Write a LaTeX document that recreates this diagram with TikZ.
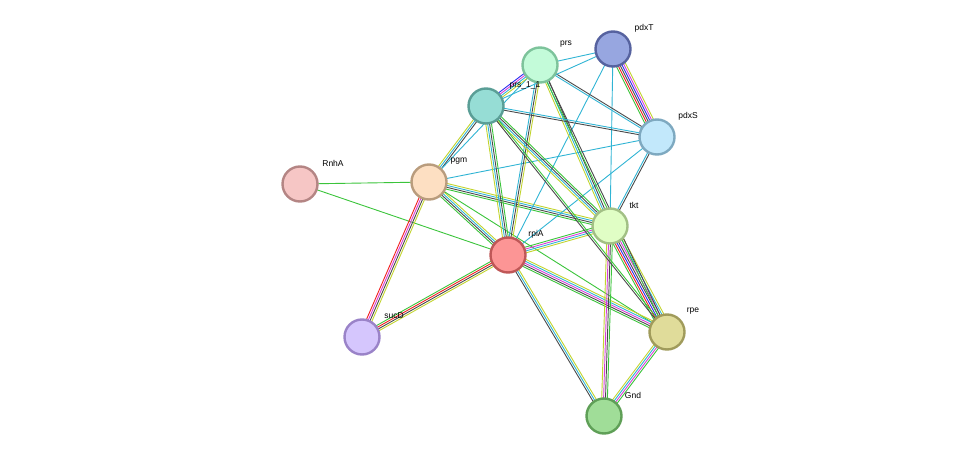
\documentclass[tikz,border=0pt]{standalone}
\usepackage{fontspec}
\setsansfont{Liberation Sans}
\usetikzlibrary{calc,backgrounds}
\definecolor{eG}{HTML}{3BC43B}
\definecolor{eR}{HTML}{F01E1E}
\definecolor{eB}{HTML}{2A2AF0}
\definecolor{eK}{HTML}{4A4A4A}
\definecolor{eM}{HTML}{D83ED8}
\definecolor{eC}{HTML}{30B4D4}
\definecolor{eY}{HTML}{C2D42E}
\definecolor{prsF}{HTML}{C3FBD9}\definecolor{prsD}{HTML}{7DC39B}
\definecolor{pdxTF}{HTML}{97A6E0}\definecolor{pdxTD}{HTML}{56629F}
\definecolor{prs11F}{HTML}{96DDD5}\definecolor{prs11D}{HTML}{5A9E96}
\definecolor{pdxSF}{HTML}{C2E8FB}\definecolor{pdxSD}{HTML}{7EA9C0}
\definecolor{RnhAF}{HTML}{F6C6C5}\definecolor{RnhAD}{HTML}{B48584}
\definecolor{pgmF}{HTML}{FDDFC2}\definecolor{pgmD}{HTML}{B99C7D}
\definecolor{tktF}{HTML}{E0FEC5}\definecolor{tktD}{HTML}{A2C085}
\definecolor{rpiAF}{HTML}{FC9595}\definecolor{rpiAD}{HTML}{BF5757}
\definecolor{sucDF}{HTML}{D5C6FD}\definecolor{sucDD}{HTML}{9A83C8}
\definecolor{rpeF}{HTML}{E0DC9A}\definecolor{rpeD}{HTML}{A09B5B}
\definecolor{GndF}{HTML}{A0DD98}\definecolor{GndD}{HTML}{5F9F57}
\tikzset{
  prot/.style={circle,draw=#1D,fill=#1F,line width=2.4pt,minimum size=35pt,inner sep=0pt},
  lbl/.style={font=\sffamily\fontsize{8.5}{10}\selectfont,inner sep=1pt}
}
\newcommand{\lnk}[3]{%
  \foreach \c [count=\i] in {#3} {\xdef\nlnk{\i}}
  \foreach \c [count=\i] in {#3} {
    \pgfmathsetmacro{\off}{(\i-(\nlnk+1)/2)*1.9}
    \draw[\c,line width=0.9pt] ($(#1)!\off pt!90:(#2)$) -- ($(#2)!\off pt!-90:(#1)$);
  }}
\begin{document}
\begin{tikzpicture}[x=1pt,y=-1pt]
  \useasboundingbox (0,0) rectangle (976,462);
  \node[prot=prs] (prs) at (540,65) {};
  \node[prot=pdxT] (pdxT) at (613,49) {};
  \node[prot=prs11] (prs11) at (486,106) {};
  \node[prot=pdxS] (pdxS) at (657,137) {};
  \node[prot=RnhA] (RnhA) at (300,184) {};
  \node[prot=pgm] (pgm) at (429,182) {};
  \node[prot=tkt] (tkt) at (610,226) {};
  \node[prot=rpiA] (rpiA) at (508,255) {};
  \node[prot=sucD] (sucD) at (362,337) {};
  \node[prot=rpe] (rpe) at (667,332) {};
  \node[prot=Gnd] (Gnd) at (604,416) {};
  % labels
  \node[lbl] (prs-l) at ($(prs)+(26,-21)$) {prs};
  \node[lbl] (pdxT-l) at ($(pdxT)+(31,-21)$) {pdxT};
  \node[lbl] (prs11-l) at ($(prs11)+(39,-21)$) {prs\_1\_1};
  \node[lbl] (pdxS-l) at ($(pdxS)+(31,-21)$) {pdxS};
  \node[lbl] (RnhA-l) at ($(RnhA)+(33,-21)$) {RnhA};
  \node[lbl] (pgm-l) at ($(pgm)+(30,-21)$) {pgm};
  \node[lbl] (tkt-l) at ($(tkt)+(24,-21)$) {tkt};
  \node[lbl] (rpiA-l) at ($(rpiA)+(28,-21)$) {rpiA};
  \node[lbl] (sucD-l) at ($(sucD)+(32,-21)$) {sucD};
  \node[lbl] (rpe-l) at ($(rpe)+(26,-21)$) {rpe};
  \node[lbl] (Gnd-l) at ($(Gnd)+(29,-21)$) {Gnd};
  \begin{pgfonlayer}{background}
    \lnk{RnhA}{pgm}{eG}
    \lnk{RnhA}{rpiA}{eG}
    \lnk{pgm}{sucD}{eR,eM,eK,eY}
    \lnk{pgm}{rpiA}{eG,eK,eC,eY}
    \lnk{pgm}{tkt}{eG,eK,eC,eY}
    \lnk{pgm}{rpe}{eG}
    \lnk{pgm}{prs11}{eK,eC,eY}
    \lnk{pgm}{prs}{eC}
    \lnk{pgm}{pdxS}{eC}
    \lnk{rpiA}{sucD}{eG,eR,eK,eY}
    \lnk{rpiA}{tkt}{eY,eC,eM,eG}
    \lnk{rpiA}{rpe}{eG,eK,eM,eC,eY}
    \lnk{rpiA}{Gnd}{eK,eC,eY}
    \lnk{rpiA}{prs11}{eG,eK,eC,eY}
    \lnk{rpiA}{prs}{eY,eK,eC}
    \lnk{rpiA}{pdxT}{eC}
    \lnk{rpiA}{pdxS}{eC}
    \lnk{tkt}{rpe}{eG,eR,eB,eK,eM,eC,eY}
    \lnk{tkt}{Gnd}{eY,eM,eK,eG}
    \lnk{rpe}{Gnd}{eY,eC,eM,eG}
    \lnk{tkt}{prs11}{eG,eK,eC,eY}
    \lnk{tkt}{prs}{eK,eC,eY}
    \lnk{tkt}{pdxT}{eC}
    \lnk{tkt}{pdxS}{eK,eC}
    \lnk{rpe}{prs11}{eG,eK}
    \lnk{rpe}{prs}{eK,eG}
    \lnk{prs}{prs11}{eB,eM,eC,eY}
    \lnk{prs}{pdxT}{eC}
    \lnk{prs}{pdxS}{eC,eK}
    \lnk{prs11}{pdxT}{eC}
    \lnk{prs11}{pdxS}{eK,eC}
    \lnk{pdxT}{pdxS}{eG,eR,eK,eB,eM,eY}
  \end{pgfonlayer}
\end{tikzpicture}
\end{document}
